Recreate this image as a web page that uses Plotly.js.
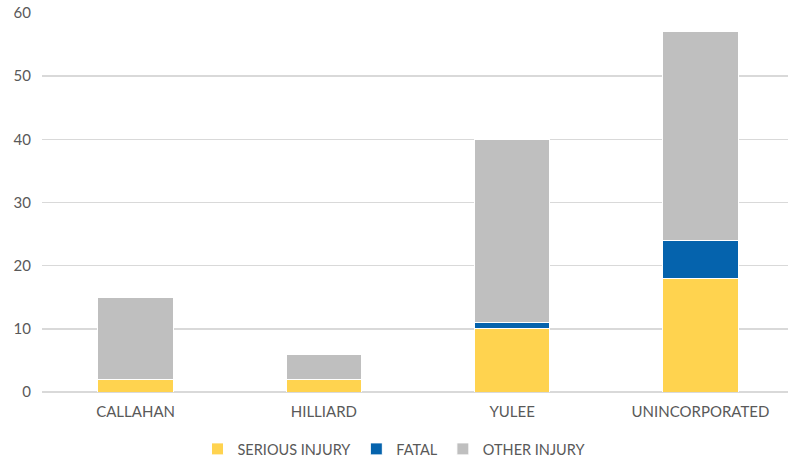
<!DOCTYPE html>
<html><head><meta charset="utf-8">
<script src="https://cdn.plot.ly/plotly-3.0.1.min.js"></script>
<style>body{margin:0;background:#fff}#c{width:788px;height:460px}</style>
</head><body><div id="c"></div>
<script>
const categories = ["CALLAHAN", "HILLIARD", "YULEE", "UNINCORPORATED"];
const seriousInjury = [2, 2, 10, 18];
const fatal = [0, 0, 1, 6];
const otherInjury = [13, 4, 29, 33];
const yTicks = [0, 10, 20, 30, 40, 50, 60];

const line = {color: "#ffffff", width: 1};
const traces = [
  {type: "bar", name: "SERIOUS INJURY", x: categories, y: seriousInjury, marker: {color: "#ffd34f", line: line}},
  {type: "bar", name: "FATAL", x: categories, y: fatal, marker: {color: "#0563ad", line: line}},
  {type: "bar", name: "OTHER INJURY", x: categories, y: otherInjury, marker: {color: "#bfbfbf", line: line}}
];
const font = {family: "Lato, Open Sans, sans-serif", size: 15, color: "#595959"};
Plotly.newPlot("c", traces, {
  width: 788, height: 460,
  barmode: "stack", bargap: 0.6,
  margin: {l: 42, r: 0, t: 13, b: 68, autoexpand: false},
  paper_bgcolor: "#fff", plot_bgcolor: "#fff",
  font: font,
  showlegend: true,
  legend: {orientation: "h", x: 0.5, xref: "container", xanchor: "center",
           y: 0.024, yref: "container", yanchor: "middle",
           font: {family: font.family, size: 14.5, color: font.color}, traceorder: "normal", itemwidth: 30},
  xaxis: {range: [-0.497, 3.465], showgrid: false, showline: false, zeroline: false, ticks: "",
          ticklabelstandoff: 9, tickfont: font},
  yaxis: {range: [0, 60], tickvals: yTicks, showgrid: true, gridcolor: "#d9d9d9", gridwidth: 1.5,
          zeroline: true, zerolinecolor: "#d9d9d9", zerolinewidth: 1.5, showline: false,
          ticks: "", ticklabelstandoff: 10, tickfont: font}
}, {displayModeBar: false, staticPlot: true});
</script></body></html>
